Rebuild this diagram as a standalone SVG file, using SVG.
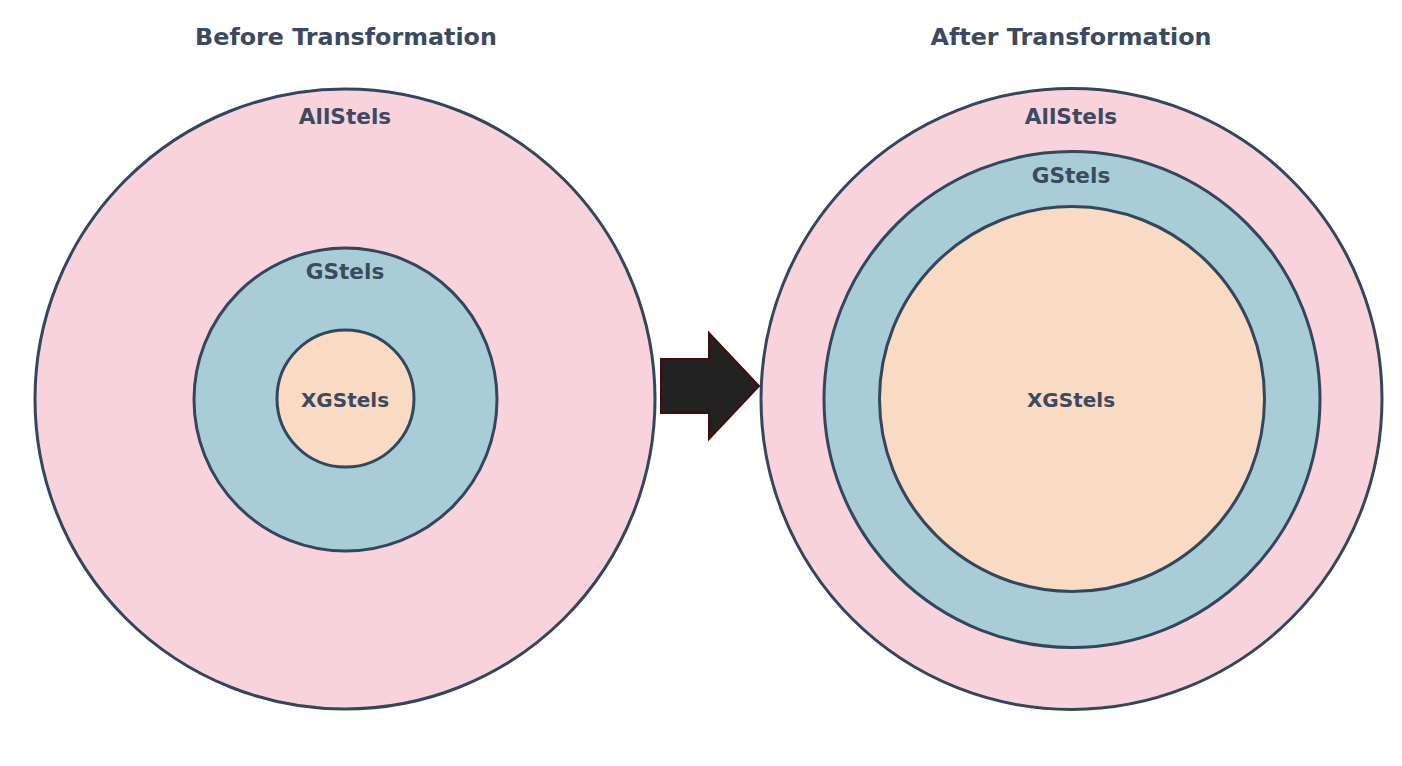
<svg xmlns="http://www.w3.org/2000/svg" width="1402" height="766" viewBox="0 0 1402 766">
<style>
text{font-family:"DejaVu Sans","Liberation Sans",sans-serif;font-weight:bold;fill:#3b4a5e;text-anchor:middle}
.t{font-size:23.8px}
.l{font-size:21.6px}
.s{font-size:20px}
circle{stroke:#34465c;stroke-width:3}
.a{fill:#f8d3dc}.g{fill:#a8cdd7}.x{fill:#f9dac3}
</style>
<rect width="1402" height="766" fill="#ffffff"/>
<text class="t" x="346" y="45">Before Transformation</text>
<text class="t" x="1071" y="45">After Transformation</text>
<g id="before-allstels"><circle class="a" cx="345" cy="399" r="310"/><text class="l" x="345" y="124">AllStels</text></g>
<g id="before-gstels"><circle class="g" cx="345.5" cy="399.5" r="151.5"/><text class="l" x="345" y="279">GStels</text></g>
<g id="before-xgstels"><circle class="x" cx="345.5" cy="398.5" r="68.5"/><text class="s" x="345" y="406.5">XGStels</text></g>
<g id="after-allstels"><circle class="a" cx="1071.5" cy="399" r="310.5"/><text class="l" x="1071" y="124">AllStels</text></g>
<g id="after-gstels"><circle class="g" cx="1072" cy="399.5" r="248"/><text class="l" x="1071" y="183">GStels</text></g>
<g id="after-xgstels"><circle class="x" cx="1072" cy="399" r="192.5"/><text class="s" x="1071" y="406.5">XGStels</text></g>
<g id="connectors"><polygon points="661,359 709,359 709,333 759,386 709,439 709,413 661,413" fill="#222222" stroke="#4a0a0a" stroke-width="2"/></g>
</svg>
